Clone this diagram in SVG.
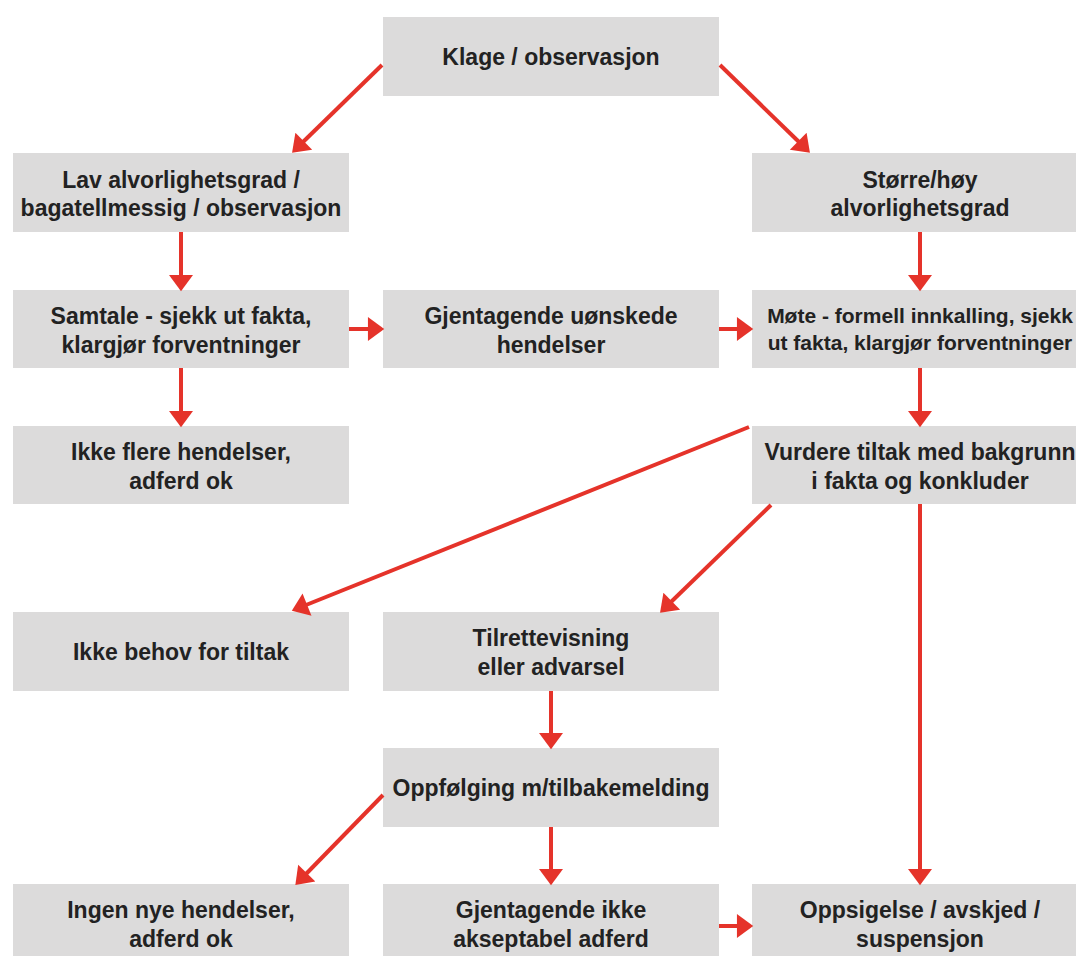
<svg xmlns="http://www.w3.org/2000/svg" width="1076" height="956" viewBox="0 0 1076 956">
<style>
.box{fill:#dcdbdb}
text{font-family:"Liberation Sans",Arial,sans-serif;font-weight:bold;font-size:23px;fill:#222;text-anchor:middle}
.sm{font-size:21px}
.c line{stroke:#e5332a;stroke-width:4;fill:none;marker-end:url(#ah)}
</style>
<defs>
<marker id="ah" markerUnits="userSpaceOnUse" markerWidth="20" markerHeight="24" viewBox="0 -11 16 22" refX="1" refY="0" orient="auto">
<path d="M0,-11 L15,0 L0,11 z" fill="#e5332a"/>
</marker>
</defs>
<rect width="1076" height="956" fill="#fff"/>
<g id="klage"><rect class="box" x="383" y="17" width="336" height="79"/><text x="551" y="65">Klage / observasjon</text></g>
<g id="lav"><rect class="box" x="13" y="153" width="336" height="79"/><text x="181" y="188">Lav alvorlighetsgrad /</text><text x="181" y="216">bagatellmessig / observasjon</text></g>
<g id="storre"><rect class="box" x="752" y="153" width="336" height="79"/><text x="920" y="188">Større/høy</text><text x="920" y="216">alvorlighetsgrad</text></g>
<g id="samtale"><rect class="box" x="13" y="290" width="336" height="78"/><text x="181" y="324">Samtale - sjekk ut fakta,</text><text x="181" y="353">klargjør forventninger</text></g>
<g id="gjentagende"><rect class="box" x="383" y="290" width="336" height="78"/><text x="551" y="324">Gjentagende uønskede</text><text x="551" y="353">hendelser</text></g>
<g id="mote"><rect class="box" x="752" y="290" width="336" height="78"/><text class="sm" x="920" y="323">Møte - formell innkalling, sjekk</text><text class="sm" x="920" y="350">ut fakta, klargjør forventninger</text></g>
<g id="ikkeflere"><rect class="box" x="13" y="426" width="336" height="78"/><text x="181" y="460">Ikke flere hendelser,</text><text x="181" y="489">adferd ok</text></g>
<g id="vurdere"><rect class="box" x="752" y="426" width="336" height="78"/><text x="920" y="460">Vurdere tiltak med bakgrunn</text><text x="920" y="489">i fakta og konkluder</text></g>
<g id="ikkebehov"><rect class="box" x="13" y="612" width="336" height="79"/><text x="181" y="660">Ikke behov for tiltak</text></g>
<g id="tilrette"><rect class="box" x="383" y="612" width="336" height="79"/><text x="551" y="646">Tilrettevisning</text><text x="551" y="675">eller advarsel</text></g>
<g id="oppfolging"><rect class="box" x="383" y="748" width="336" height="79"/><text x="551" y="796">Oppfølging m/tilbakemelding</text></g>
<g id="ingen"><rect class="box" x="13" y="884" width="336" height="79"/><text x="181" y="918">Ingen nye hendelser,</text><text x="181" y="947">adferd ok</text></g>
<g id="gjentikke"><rect class="box" x="383" y="884" width="336" height="79"/><text x="551" y="918">Gjentagende ikke</text><text x="551" y="947">akseptabel adferd</text></g>
<g id="oppsigelse"><rect class="box" x="752" y="884" width="336" height="79"/><text x="920" y="918">Oppsigelse / avskjed /</text><text x="920" y="947">suspensjon</text></g>
<g id="connectors" class="c">
<line x1="382" y1="65" x2="303" y2="142"/>
<line x1="720" y1="65" x2="799" y2="142"/>
<line x1="181" y1="232" x2="181" y2="276"/>
<line x1="181" y1="368" x2="181" y2="412"/>
<line x1="349" y1="329" x2="369" y2="329"/>
<line x1="719" y1="329" x2="738" y2="329"/>
<line x1="920" y1="232" x2="920" y2="276"/>
<line x1="920" y1="368" x2="920" y2="412"/>
<line x1="749" y1="427" x2="306" y2="605"/>
<line x1="771" y1="505" x2="671" y2="602"/>
<line x1="920" y1="504" x2="920" y2="870"/>
<line x1="551" y1="691" x2="551" y2="734"/>
<line x1="383" y1="795" x2="306" y2="874"/>
<line x1="551" y1="827" x2="551" y2="870"/>
<line x1="719" y1="926" x2="738" y2="926"/>
</g>
</svg>
